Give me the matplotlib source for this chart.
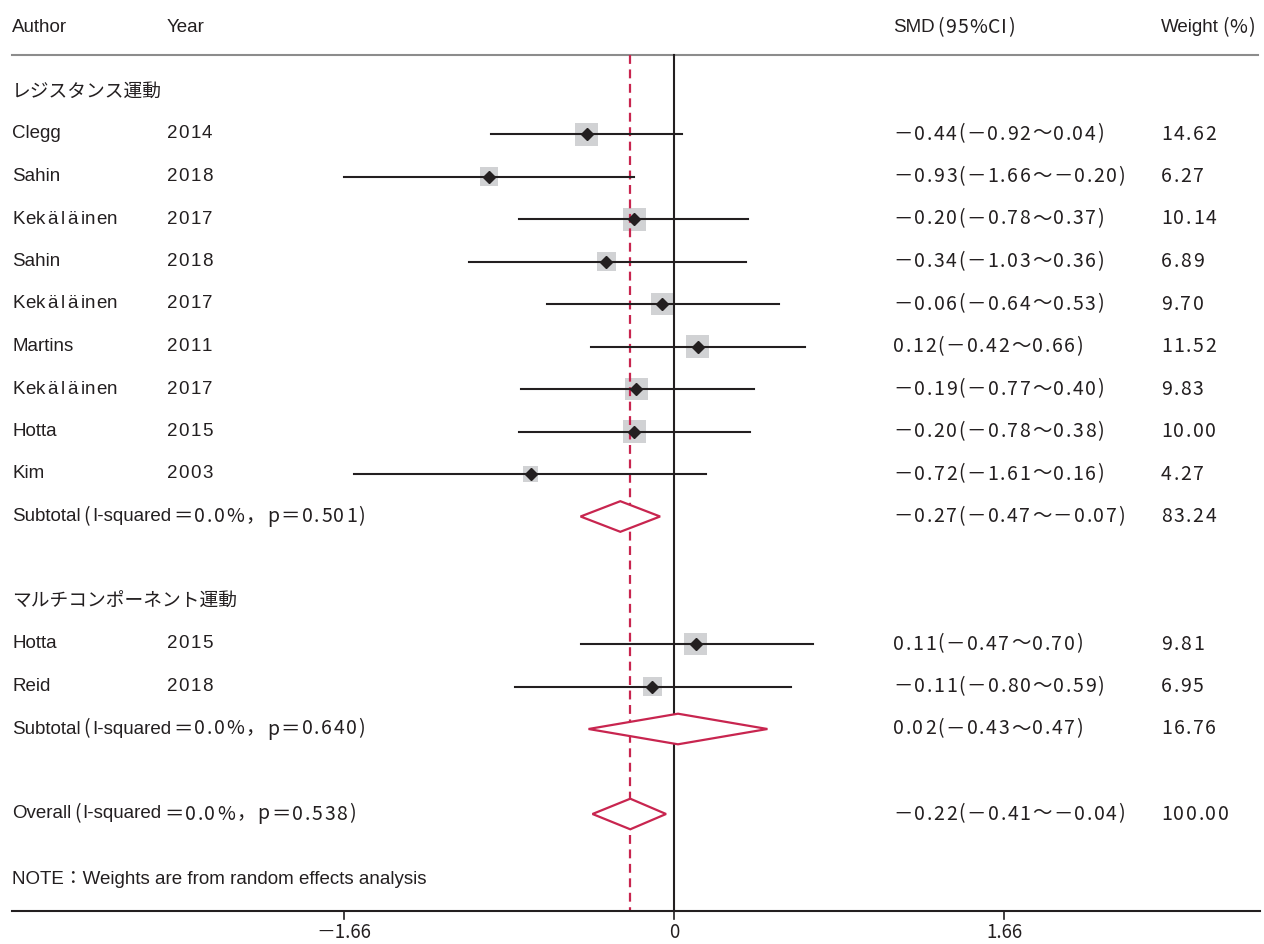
import numpy as np
import matplotlib
matplotlib.use("Agg")
import matplotlib.pyplot as plt
from matplotlib.patches import Polygon, Rectangle

# 研究ごとのデータ
authors = ["Clegg", "Sahin", "Kekäläinen", "Sahin", "Kekäläinen", "Martins",
           "Kekäläinen", "Hotta", "Kim", "Hotta", "Reid"]
years = ["2014", "2018", "2017", "2018", "2017", "2011", "2017", "2015", "2003",
         "2015", "2018"]
smd = [-0.44, -0.93, -0.20, -0.34, -0.06, 0.12, -0.19, -0.20, -0.72, 0.11, -0.11]
ci_lo = [-0.92, -1.66, -0.78, -1.03, -0.64, -0.42, -0.77, -0.78, -1.61, -0.47, -0.80]
ci_hi = [0.04, -0.20, 0.37, 0.36, 0.53, 0.66, 0.40, 0.38, 0.16, 0.70, 0.59]
weight = [14.62, 6.27, 10.14, 6.89, 9.70, 11.52, 9.83, 10.00, 4.27, 9.81, 6.95]
study_rows = [0, 1, 2, 3, 4, 5, 6, 7, 8, 12, 13]

# サブグループと全体
group_names = ["レジスタンス運動", "マルチコンポーネント運動"]
group_rows = [-1, 11]
pooled_labels = ["Subtotal", "Subtotal", "Overall"]
pooled_i2 = ["0.0%", "0.0%", "0.0%"]
pooled_p = ["0.501", "0.640", "0.538"]
pooled_smd = [-0.27, 0.02, -0.22]
pooled_lo = [-0.47, -0.43, -0.41]
pooled_hi = [-0.07, 0.47, -0.04]
pooled_w = ["83.24", "16.76", "100.00"]
pooled_rows = [9, 14, 16]

xticks = [-1.66, 0, 1.66]
note = "NOTE：Weights are from random effects analysis"

W, H = 1264, 944
RED = "#c8254f"
INK = "#231f20"
LATIN = ["Liberation Sans", "Noto Sans CJK JP"]
JP = ["Noto Sans CJK JP", "DejaVu Sans"]
FS = 13.5
FS_NUM = 14
TRACK = 1.6

fig = plt.figure(figsize=(W / 100, H / 100), dpi=100)
ax = fig.add_axes([0, 0, 1, 1])
px_per_unit = 198.8
x0 = 674
ax.set_xlim(-x0 / px_per_unit, (W - x0) / px_per_unit)
row0, row_h = 134, 42.5
ax.set_ylim((H - row0) / row_h, -row0 / row_h)
ax.axis("off")

renderer = fig.canvas.get_renderer()


def ypx(r):
    return row0 + r * row_h


def put(x, y, s, family=LATIN, track=None, size=FS):
    """Draw s at pixel (x, y); with track, glyphs are set one by one."""
    if track is None:
        t = fig.text(x / W, 1 - y / H, s, ha="left", va="center",
                     family=family, fontsize=size, color=INK)
        return x + t.get_window_extent(renderer).width
    for ch in s:
        if ch == " ":
            x += 4
            continue
        t = fig.text(x / W, 1 - y / H, ch, ha="left", va="center",
                     family=family, fontsize=size, color=INK)
        x += t.get_window_extent(renderer).width + track
    return x - track


def put_name(x, y, name):
    # umlauts are set a little wider than the rest of the name
    if "ä" not in name:
        return put(x, y, name)
    for ch in name:
        if ch == "ä":
            x = put(x + 2.5, y, ch) + 2.5
        else:
            x = put(x, y, ch) + 0.3
    return x


def num(v):
    return f"{v:.2f}".replace("-", "－")


def ci_text(m, lo, hi):
    return f"{num(m)}({num(lo)}～{num(hi)})"


def stats_text(x, y, label, i2, p):
    x = put(x, y, label)
    x = put(x + 3, y, "(", family=JP, size=FS_NUM)
    x = put(x + 2, y, "I-squared")
    put(x + 2, y, f"＝{i2}，p＝{p})", family=JP, track=TRACK, size=FS_NUM)


NUM_X, W_X, AUTH_X, YEAR_X = 893, 1161, 12, 167

# 見出し
hy = ypx(-2.5)
put(AUTH_X, hy, "Author")
put(YEAR_X, hy, "Year")
x = put(NUM_X, hy, "SMD")
put(x + 3, hy, "(95%CI)", family=JP, track=1.0, size=FS_NUM)
x = put(W_X, hy, "Weight")
put(x + 3, hy, "(%)", family=JP, track=1.0, size=FS_NUM)

top = -1.86
bottom = 18.28
ax.plot([-662 / px_per_unit, 584 / px_per_unit], [top, top], color="#8c8c8c", lw=1.5)

# 基準線と全体効果の破線
ax.plot([0, 0], [top, bottom], color=INK, lw=1.5, zorder=2)
ax.plot([pooled_smd[2]] * 2, [top, bottom], color=RED, lw=1.6,
        dashes=(4, 2.5), zorder=2)

for name, r in zip(group_names, group_rows):
    put(AUTH_X, ypx(r), name, family=JP)

for a, yr, m, lo, hi, w, r in zip(authors, years, smd, ci_lo, ci_hi, weight, study_rows):
    side_px = min(23, 7.3 * np.sqrt(w))
    side = side_px / px_per_unit
    half_h = side_px / 2 / row_h
    ax.add_patch(Rectangle((m - side / 2, r - half_h), side, 2 * half_h,
                           facecolor="#d1d2d4", edgecolor="none", zorder=1))
    ax.plot([lo, hi], [r, r], color=INK, lw=1.5, zorder=3)
    ax.plot([m], [r], marker="D", color=INK, markersize=6.5, zorder=4)
    y = ypx(r)
    put_name(AUTH_X, y, a)
    put(YEAR_X, y, yr, track=1.2)
    put(NUM_X, y, ci_text(m, lo, hi), family=JP, track=TRACK, size=FS_NUM)
    put(W_X, y, f"{w:.2f}", family=JP, track=TRACK, size=FS_NUM)

dh = 0.36
for lab, i2, p, m, lo, hi, w, r in zip(pooled_labels, pooled_i2, pooled_p, pooled_smd,
                                       pooled_lo, pooled_hi, pooled_w, pooled_rows):
    ax.add_patch(Polygon([[lo, r], [m, r - dh], [hi, r], [m, r + dh]], closed=True,
                         facecolor="white", edgecolor=RED, lw=1.6, zorder=5))
    y = ypx(r)
    stats_text(AUTH_X, y, lab, i2, p)
    put(NUM_X, y, ci_text(m, lo, hi), family=JP, track=TRACK, size=FS_NUM)
    put(W_X, y, w, family=JP, track=TRACK, size=FS_NUM)

put(AUTH_X, ypx(17.55), note)

# 横軸
ax.plot([-662 / px_per_unit, 586 / px_per_unit], [bottom, bottom], color=INK, lw=1.5)
for t in xticks:
    ax.plot([t, t], [bottom, bottom + 0.2], color=INK, lw=1.2)
    lab = "0" if t == 0 else f"{t:.2f}".replace("-", "－")
    ax.text(t, 18.78, lab, ha="center", va="center", family=JP, fontsize=FS, color=INK)

fig.savefig("out.png", dpi=100)
